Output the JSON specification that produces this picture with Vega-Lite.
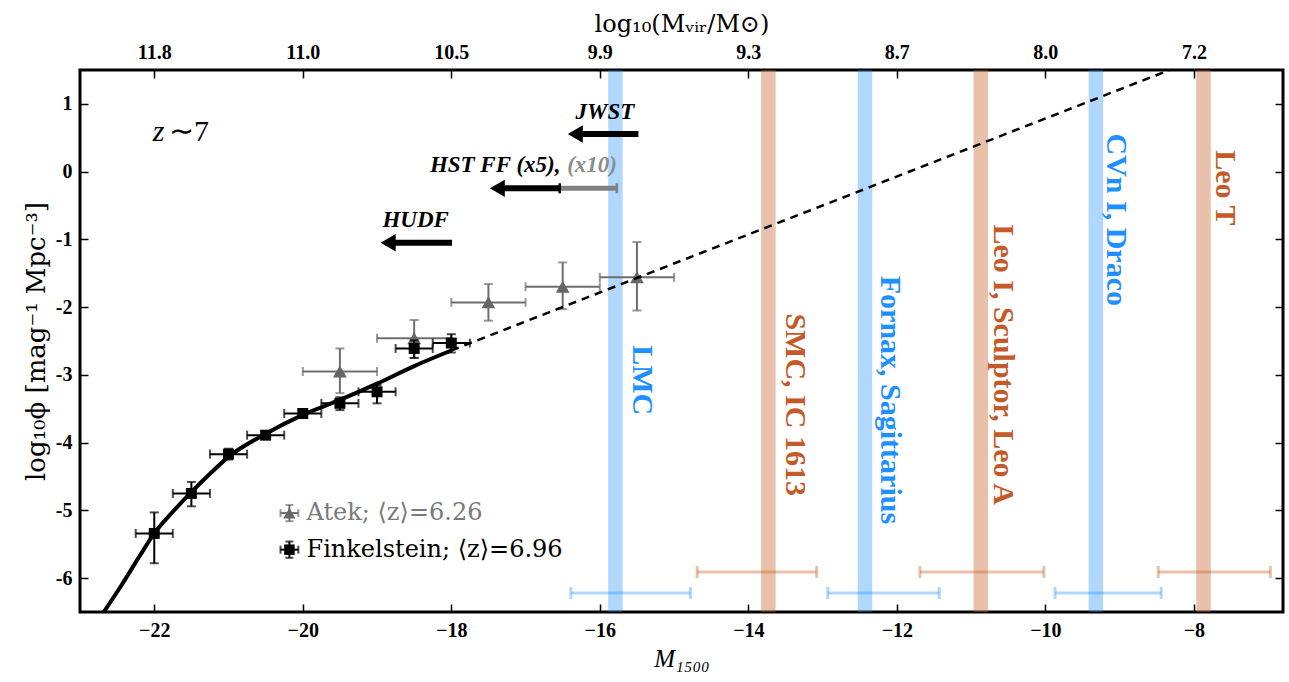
{
  "$schema": "https://vega.github.io/schema/vega-lite/v6.json",
  "width": 1203,
  "height": 542,
  "autosize": "none",
  "padding": {"left": 80, "top": 70, "right": 6, "bottom": 70},
  "background": "white",
  "config": {
    "view": {"stroke": "black", "strokeWidth": 3},
    "axis": {
      "grid": false, "domain": false, "tickColor": "black", "tickWidth": 1.5, "tickSize": -8,
      "labelFont": "Liberation Serif", "labelFontWeight": "bold", "labelFontSize": 20, "labelColor": "black",
      "labelPadding": 16, "titleFont": "Liberation Serif", "titleFontWeight": "normal", "titleFontSize": 25, "titleColor": "black"
    }
  },
  "datasets": {
    "galaxies": [
      {"name": "LMC", "kind": "blue", "M": -15.79},
      {"name": "SMC, IC 1613", "kind": "brown", "M": -13.73},
      {"name": "Fornax, Sagittarius", "kind": "blue", "M": -12.43},
      {"name": "Leo I, Sculptor, Leo A", "kind": "brown", "M": -10.87},
      {"name": "CVn I, Draco", "kind": "blue", "M": -9.32},
      {"name": "Leo T", "kind": "brown", "M": -7.87}
    ],
    "ranges": [
      {"kind": "blue", "lo": -16.39, "hi": -14.78, "y": -6.22},
      {"kind": "brown", "lo": -14.69, "hi": -13.08, "y": -5.91},
      {"kind": "blue", "lo": -12.93, "hi": -11.43, "y": -6.22},
      {"kind": "brown", "lo": -11.69, "hi": -10.02, "y": -5.91},
      {"kind": "blue", "lo": -9.87, "hi": -8.44, "y": -6.22},
      {"kind": "brown", "lo": -8.48, "hi": -6.97, "y": -5.91}
    ],
    "names": [
      {"text": "LMC", "kind": "blue", "M": -15.43, "y": -3.08},
      {"text": "SMC, IC 1613", "kind": "brown", "M": -13.37, "y": -3.44},
      {"text": "Fornax, Sagittarius", "kind": "blue", "M": -12.09, "y": -3.37},
      {"text": "Leo I, Sculptor, Leo A", "kind": "brown", "M": -10.57, "y": -2.85},
      {"text": "CVn I, Draco", "kind": "blue", "M": -9.05, "y": -0.71},
      {"text": "Leo T", "kind": "brown", "M": -7.58, "y": -0.24}
    ],
    "atek": [
      {"M": -19.5, "phi": -2.95, "ylo": -3.27, "yhi": -2.61, "xlo": -20.0, "xhi": -19.0},
      {"M": -18.5, "phi": -2.46, "ylo": -2.75, "yhi": -2.19, "xlo": -19.0, "xhi": -18.0},
      {"M": -17.5, "phi": -1.93, "ylo": -2.2, "yhi": -1.66, "xlo": -18.0, "xhi": -17.0},
      {"M": -16.5, "phi": -1.7, "ylo": -2.03, "yhi": -1.34, "xlo": -17.0, "xhi": -16.0},
      {"M": -15.5, "phi": -1.56, "ylo": -2.05, "yhi": -1.04, "xlo": -16.0, "xhi": -15.0}
    ],
    "fink": [
      {"M": -22.0, "phi": -5.34, "ylo": -5.78, "yhi": -5.03, "xlo": -22.25, "xhi": -21.75},
      {"M": -21.5, "phi": -4.75, "ylo": -4.94, "yhi": -4.58, "xlo": -21.75, "xhi": -21.25},
      {"M": -21.0, "phi": -4.17, "ylo": -4.25, "yhi": -4.09, "xlo": -21.25, "xhi": -20.75},
      {"M": -20.5, "phi": -3.89, "ylo": -3.94, "yhi": -3.84, "xlo": -20.75, "xhi": -20.25},
      {"M": -20.0, "phi": -3.57, "ylo": -3.62, "yhi": -3.52, "xlo": -20.25, "xhi": -19.75},
      {"M": -19.5, "phi": -3.42, "ylo": -3.52, "yhi": -3.33, "xlo": -19.75, "xhi": -19.25},
      {"M": -19.0, "phi": -3.25, "ylo": -3.42, "yhi": -3.15, "xlo": -19.25, "xhi": -18.75},
      {"M": -18.5, "phi": -2.61, "ylo": -2.75, "yhi": -2.49, "xlo": -18.75, "xhi": -18.25},
      {"M": -18.0, "phi": -2.53, "ylo": -2.67, "yhi": -2.4, "xlo": -18.25, "xhi": -17.75}
    ],
    "curve": [
      {"M": -22.68, "phi": -6.5},
      {"M": -22.45, "phi": -6.12},
      {"M": -22.2, "phi": -5.68},
      {"M": -22.0, "phi": -5.34},
      {"M": -21.75, "phi": -5.02},
      {"M": -21.5, "phi": -4.73},
      {"M": -21.25, "phi": -4.46},
      {"M": -21.0, "phi": -4.21},
      {"M": -20.5, "phi": -3.87},
      {"M": -20.0, "phi": -3.59},
      {"M": -19.5, "phi": -3.37},
      {"M": -19.0, "phi": -3.13},
      {"M": -18.5, "phi": -2.87},
      {"M": -18.0, "phi": -2.64}
    ],
    "dashed": [
      {"M": -18.0, "phi": -2.64},
      {"M": -13.0, "phi": -0.5},
      {"M": -8.0, "phi": 1.64}
    ],
    "shafts": [
      {"c": "black", "x1": -15.48, "x2": -16.3, "y": 0.555},
      {"c": "black", "x1": -16.54, "x2": -17.35, "y": -0.246},
      {"c": "black", "x1": -17.99, "x2": -18.82, "y": -1.05},
      {"c": "gray", "x1": -16.54, "x2": -15.77, "y": -0.246}
    ],
    "heads": [
      {"M": -16.33, "y": 0.555},
      {"M": -17.38, "y": -0.246},
      {"M": -18.85, "y": -1.05}
    ],
    "caps": [
      {"c": "black", "M": -16.54, "y": -0.246},
      {"c": "gray", "M": -15.77, "y": -0.246}
    ],
    "annot": [
      {"text": "JWST", "c": "black", "align": "center", "M": -15.93, "y": 0.885},
      {"text": "HST FF (x5),", "c": "black", "align": "right", "M": -16.53, "y": 0.1},
      {"text": "(x10)", "c": "gray", "align": "left", "M": -16.44, "y": 0.1},
      {"text": "HUDF", "c": "black", "align": "center", "M": -18.48, "y": -0.714}
    ],
    "legend": [
      {"series": "Atek", "text": "Atek; ⟨z⟩=6.26", "M": -20.18, "tM": -19.95, "phi": -5.04, "xlo": -20.3, "xhi": -20.06, "ylo": -5.16, "yhi": -4.92},
      {"series": "Finkelstein", "text": "Finkelstein; ⟨z⟩=6.96", "M": -20.18, "tM": -19.95, "phi": -5.58, "xlo": -20.3, "xhi": -20.06, "ylo": -5.7, "yhi": -5.46}
    ]
  },
  "layer": [
    {
      "data": {"name": "galaxies"},
      "transform": [{"filter": "datum.kind == 'blue'"}],
      "mark": {"type": "rule", "strokeWidth": 14.5, "color": "#1e90ff", "opacity": 0.35},
      "encoding": {
        "x": {"field": "M", "type": "quantitative",
          "scale": {"domain": [-23, -6.8], "nice": false, "zero": false},
          "axis": {"orient": "bottom", "values": [-22, -20, -18, -16, -14, -12, -10, -8],
            "labelExpr": "datum.value < 0 ? '−' + abs(datum.value) : '' + datum.value",
            "title": "M₁₅₀₀", "titleFontStyle": "italic", "titlePadding": 6}}
      }
    },
    {
      "data": {"name": "galaxies"},
      "transform": [{"filter": "datum.kind == 'brown'"}],
      "mark": {"type": "rule", "strokeWidth": 14.5, "color": "#c8642d", "opacity": 0.4},
      "encoding": {"x": {"field": "M", "type": "quantitative", "axis": null}}
    },
    {
      "data": {"name": "ranges"},
      "transform": [{"filter": "datum.kind == 'blue'"}],
      "mark": {"type": "errorbar", "color": "#1e90ff", "opacity": 0.35, "thickness": 3, "ticks": {"size": 12, "thickness": 3}},
      "encoding": {
        "x": {"field": "lo", "type": "quantitative", "axis": null},
        "x2": {"field": "hi"},
        "y": {"field": "y", "type": "quantitative", "axis": null}
      }
    },
    {
      "data": {"name": "ranges"},
      "transform": [{"filter": "datum.kind == 'brown'"}],
      "mark": {"type": "errorbar", "color": "#c8642d", "opacity": 0.4, "thickness": 3, "ticks": {"size": 12, "thickness": 3}},
      "encoding": {
        "x": {"field": "lo", "type": "quantitative", "axis": null},
        "x2": {"field": "hi"},
        "y": {"field": "y", "type": "quantitative", "axis": null}
      }
    },
    {
      "data": {"name": "names"},
      "transform": [{"filter": "datum.kind == 'blue'"}],
      "mark": {"type": "text", "angle": 90, "align": "center", "baseline": "middle", "font": "Liberation Serif", "fontWeight": "bold", "fontSize": 30, "color": "#1e90ff"},
      "encoding": {
        "x": {"field": "M", "type": "quantitative", "axis": null},
        "y": {"field": "y", "type": "quantitative", "axis": null},
        "text": {"field": "text"}
      }
    },
    {
      "data": {"name": "names"},
      "transform": [{"filter": "datum.kind == 'brown'"}],
      "mark": {"type": "text", "angle": 90, "align": "center", "baseline": "middle", "font": "Liberation Serif", "fontWeight": "bold", "fontSize": 30, "color": "#c45a28"},
      "encoding": {
        "x": {"field": "M", "type": "quantitative", "axis": null},
        "y": {"field": "y", "type": "quantitative", "axis": null},
        "text": {"field": "text"}
      }
    },
    {
      "data": {"name": "atek"},
      "mark": {"type": "errorbar", "color": "#6e6e6e", "thickness": 2, "ticks": {"size": 9, "thickness": 2}},
      "encoding": {
        "x": {"field": "xlo", "type": "quantitative", "axis": null},
        "x2": {"field": "xhi"},
        "y": {"field": "phi", "type": "quantitative", "axis": null}
      }
    },
    {
      "data": {"name": "atek"},
      "mark": {"type": "errorbar", "color": "#6e6e6e", "thickness": 2, "ticks": {"size": 9, "thickness": 2}},
      "encoding": {
        "y": {"field": "ylo", "type": "quantitative", "axis": null},
        "y2": {"field": "yhi"},
        "x": {"field": "M", "type": "quantitative", "axis": null}
      }
    },
    {
      "data": {"name": "atek"},
      "mark": {"type": "point", "shape": "triangle-up", "filled": true, "size": 190, "color": "#666666", "opacity": 1},
      "encoding": {
        "x": {"field": "M", "type": "quantitative", "axis": null},
        "y": {"field": "phi", "type": "quantitative", "axis": null}
      }
    },
    {
      "data": {"name": "curve"},
      "mark": {"type": "line", "color": "black", "strokeWidth": 4, "interpolate": "monotone", "clip": true},
      "encoding": {
        "x": {"field": "M", "type": "quantitative", "axis": null},
        "y": {"field": "phi", "type": "quantitative",
          "scale": {"domain": [-6.5, 1.5], "nice": false, "zero": false},
          "axis": {"orient": "left", "values": [-6, -5, -4, -3, -2, -1, 0, 1],
            "labelExpr": "datum.value < 0 ? '-' + abs(datum.value) : '' + datum.value",
            "title": "log₁₀ϕ  [mag⁻¹  Mpc⁻³]", "titleFont": "DejaVu Serif", "titleFontSize": 26, "titlePadding": 6}}
      }
    },
    {
      "data": {"name": "dashed"},
      "mark": {"type": "line", "color": "black", "strokeWidth": 2.5, "strokeDash": [8, 6], "clip": true},
      "encoding": {
        "x": {"field": "M", "type": "quantitative", "axis": null},
        "y": {"field": "phi", "type": "quantitative", "axis": null}
      }
    },
    {
      "data": {"name": "fink"},
      "mark": {"type": "errorbar", "color": "black", "thickness": 2, "ticks": {"size": 9, "thickness": 2}},
      "encoding": {
        "x": {"field": "xlo", "type": "quantitative", "axis": null},
        "x2": {"field": "xhi"},
        "y": {"field": "phi", "type": "quantitative", "axis": null}
      }
    },
    {
      "data": {"name": "fink"},
      "mark": {"type": "errorbar", "color": "black", "thickness": 2, "ticks": {"size": 9, "thickness": 2}},
      "encoding": {
        "y": {"field": "ylo", "type": "quantitative", "axis": null},
        "y2": {"field": "yhi"},
        "x": {"field": "M", "type": "quantitative", "axis": null}
      }
    },
    {
      "data": {"name": "fink"},
      "mark": {"type": "point", "shape": "square", "filled": true, "size": 120, "color": "black", "opacity": 1},
      "encoding": {
        "x": {"field": "M", "type": "quantitative", "axis": null},
        "y": {"field": "phi", "type": "quantitative", "axis": null}
      }
    },
    {
      "data": {"name": "shafts"},
      "transform": [{"filter": "datum.c == 'black'"}],
      "mark": {"type": "rule", "color": "black", "strokeWidth": 6},
      "encoding": {
        "x": {"field": "x1", "type": "quantitative", "axis": null},
        "x2": {"field": "x2"},
        "y": {"field": "y", "type": "quantitative", "axis": null}
      }
    },
    {
      "data": {"name": "shafts"},
      "transform": [{"filter": "datum.c == 'gray'"}],
      "mark": {"type": "rule", "color": "#808080", "strokeWidth": 5},
      "encoding": {
        "x": {"field": "x1", "type": "quantitative", "axis": null},
        "x2": {"field": "x2"},
        "y": {"field": "y", "type": "quantitative", "axis": null}
      }
    },
    {
      "data": {"name": "caps"},
      "transform": [{"filter": "datum.c == 'gray'"}],
      "mark": {"type": "tick", "orient": "vertical", "color": "#808080", "size": 10, "thickness": 2.5, "opacity": 1},
      "encoding": {
        "x": {"field": "M", "type": "quantitative", "axis": null},
        "y": {"field": "y", "type": "quantitative", "axis": null}
      }
    },
    {
      "data": {"name": "caps"},
      "transform": [{"filter": "datum.c == 'black'"}],
      "mark": {"type": "tick", "orient": "vertical", "color": "black", "size": 10, "thickness": 2.5, "opacity": 1},
      "encoding": {
        "x": {"field": "M", "type": "quantitative", "axis": null},
        "y": {"field": "y", "type": "quantitative", "axis": null}
      }
    },
    {
      "data": {"name": "heads"},
      "mark": {"type": "point", "shape": "triangle-left", "filled": true, "size": 300, "color": "black", "opacity": 1},
      "encoding": {
        "x": {"field": "M", "type": "quantitative", "axis": null},
        "y": {"field": "y", "type": "quantitative", "axis": null}
      }
    },
    {
      "data": {"name": "annot"},
      "transform": [{"filter": "datum.align == 'center'"}],
      "mark": {"type": "text", "align": "center", "baseline": "middle", "font": "Liberation Serif", "fontWeight": "bold", "fontStyle": "italic", "fontSize": 23, "color": "black"},
      "encoding": {
        "x": {"field": "M", "type": "quantitative", "axis": null},
        "y": {"field": "y", "type": "quantitative", "axis": null},
        "text": {"field": "text"}
      }
    },
    {
      "data": {"name": "annot"},
      "transform": [{"filter": "datum.align == 'right'"}],
      "mark": {"type": "text", "align": "right", "baseline": "middle", "font": "Liberation Serif", "fontWeight": "bold", "fontStyle": "italic", "fontSize": 23, "color": "black"},
      "encoding": {
        "x": {"field": "M", "type": "quantitative", "axis": null},
        "y": {"field": "y", "type": "quantitative", "axis": null},
        "text": {"field": "text"}
      }
    },
    {
      "data": {"name": "annot"},
      "transform": [{"filter": "datum.c == 'gray'"}],
      "mark": {"type": "text", "align": "left", "baseline": "middle", "font": "Liberation Serif", "fontWeight": "bold", "fontStyle": "italic", "fontSize": 23, "color": "#8c8c8c"},
      "encoding": {
        "x": {"field": "M", "type": "quantitative", "axis": null},
        "y": {"field": "y", "type": "quantitative", "axis": null},
        "text": {"field": "text"}
      }
    },
    {
      "data": {"values": [{"t": "z", "M": -21.94, "y": 0.585}]},
      "mark": {"type": "text", "align": "center", "baseline": "middle", "font": "Liberation Serif", "fontStyle": "italic", "fontSize": 30, "color": "black"},
      "encoding": {
        "x": {"field": "M", "type": "quantitative", "axis": null},
        "y": {"field": "y", "type": "quantitative", "axis": null},
        "text": {"field": "t"}
      }
    },
    {
      "data": {"values": [{"t": "∼7", "M": -21.8, "y": 0.585}]},
      "mark": {"type": "text", "align": "left", "baseline": "middle", "font": "Liberation Serif", "fontSize": 30, "color": "black"},
      "encoding": {
        "x": {"field": "M", "type": "quantitative", "axis": null},
        "y": {"field": "y", "type": "quantitative", "axis": null},
        "text": {"field": "t"}
      }
    },
    {
      "data": {"name": "legend"},
      "transform": [{"filter": "datum.series == 'Atek'"}],
      "layer": [
        {"mark": {"type": "errorbar", "color": "#6e6e6e", "thickness": 2, "ticks": {"size": 8, "thickness": 2}},
          "encoding": {"x": {"field": "xlo", "type": "quantitative", "axis": null}, "x2": {"field": "xhi"}, "y": {"field": "phi", "type": "quantitative", "axis": null}}},
        {"mark": {"type": "errorbar", "color": "#6e6e6e", "thickness": 2, "ticks": {"size": 8, "thickness": 2}},
          "encoding": {"y": {"field": "ylo", "type": "quantitative", "axis": null}, "y2": {"field": "yhi"}, "x": {"field": "M", "type": "quantitative", "axis": null}}},
        {"mark": {"type": "point", "shape": "triangle-up", "filled": true, "size": 150, "color": "#666666", "opacity": 1},
          "encoding": {"x": {"field": "M", "type": "quantitative", "axis": null}, "y": {"field": "phi", "type": "quantitative", "axis": null}}},
        {"mark": {"type": "text", "align": "left", "baseline": "middle", "font": "DejaVu Serif", "fontSize": 24, "color": "#7a7a7a"},
          "encoding": {"x": {"field": "tM", "type": "quantitative", "axis": null}, "y": {"field": "phi", "type": "quantitative", "axis": null}, "text": {"field": "text"}}}
      ]
    },
    {
      "data": {"name": "legend"},
      "transform": [{"filter": "datum.series == 'Finkelstein'"}],
      "layer": [
        {"mark": {"type": "errorbar", "color": "black", "thickness": 2, "ticks": {"size": 8, "thickness": 2}},
          "encoding": {"x": {"field": "xlo", "type": "quantitative", "axis": null}, "x2": {"field": "xhi"}, "y": {"field": "phi", "type": "quantitative", "axis": null}}},
        {"mark": {"type": "errorbar", "color": "black", "thickness": 2, "ticks": {"size": 8, "thickness": 2}},
          "encoding": {"y": {"field": "ylo", "type": "quantitative", "axis": null}, "y2": {"field": "yhi"}, "x": {"field": "M", "type": "quantitative", "axis": null}}},
        {"mark": {"type": "point", "shape": "square", "filled": true, "size": 110, "color": "black", "opacity": 1},
          "encoding": {"x": {"field": "M", "type": "quantitative", "axis": null}, "y": {"field": "phi", "type": "quantitative", "axis": null}}},
        {"mark": {"type": "text", "align": "left", "baseline": "middle", "font": "DejaVu Serif", "fontSize": 24, "color": "black"},
          "encoding": {"x": {"field": "tM", "type": "quantitative", "axis": null}, "y": {"field": "phi", "type": "quantitative", "axis": null}, "text": {"field": "text"}}}
      ]
    },
    {
      "data": {"name": "heads"},
      "mark": {"type": "point", "opacity": 0},
      "encoding": {
        "x": {"field": "M", "type": "quantitative",
          "axis": {"orient": "top", "values": [-22, -20, -18, -16, -14, -12, -10, -8],
            "labelExpr": "datum.value == -22 ? '11.8' : datum.value == -20 ? '11.0' : datum.value == -18 ? '10.5' : datum.value == -16 ? '9.9' : datum.value == -14 ? '9.3' : datum.value == -12 ? '8.7' : datum.value == -10 ? '8.0' : '7.2'",
            "title": "log₁₀(Mᵥᵢᵣ/M⊙)", "titleFont": "DejaVu Serif", "titleFontSize": 24, "titlePadding": 6}},
        "y": {"field": "y", "type": "quantitative",
          "axis": {"orient": "right", "values": [-6, -5, -4, -3, -2, -1, 0, 1], "labels": false, "title": null}}
      }
    }
  ],
  "resolve": {"axis": {"x": "independent", "y": "independent"}}
}
